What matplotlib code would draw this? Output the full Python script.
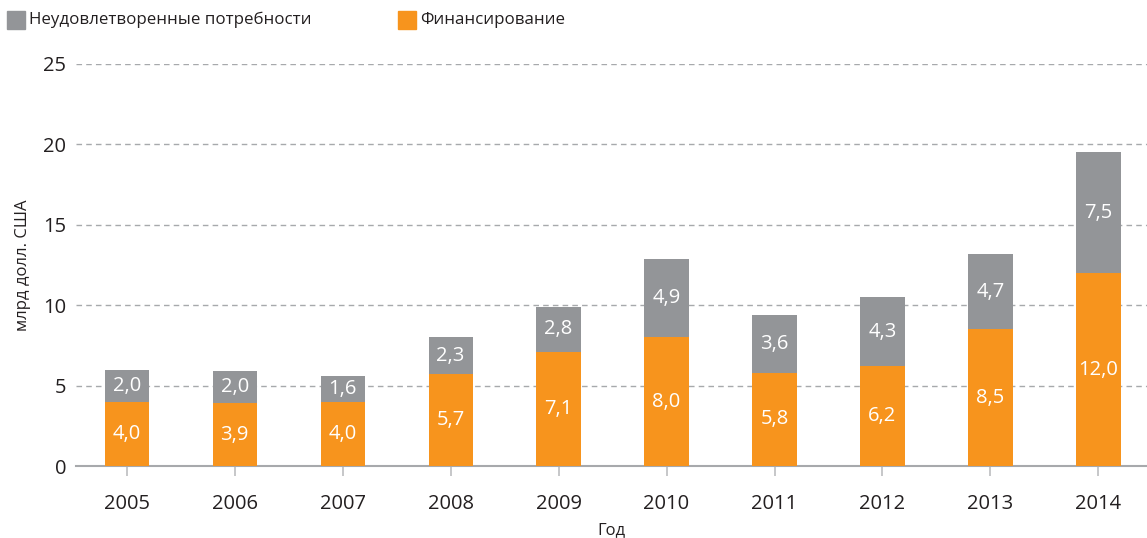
"""Stacked bar chart: funding vs unmet needs, 2005-2014."""

import matplotlib
matplotlib.use("Agg")
import matplotlib.pyplot as plt
import numpy as np
from matplotlib.patches import Rectangle

years = ["2005", "2006", "2007", "2008", "2009", "2010", "2011", "2012", "2013", "2014"]
funding = [4.0, 3.9, 4.0, 5.7, 7.1, 8.0, 5.8, 6.2, 8.5, 12.0]
unmet = [2.0, 2.0, 1.6, 2.3, 2.8, 4.9, 3.6, 4.3, 4.7, 7.5]
legend_labels = ["Неудовлетворенные потребности", "Финансирование"]
y_ticks = [0, 5, 10, 15, 20, 25]

ORANGE = "#f7941d"
GRAY = "#939598"
TEXT = "#231f20"
GRID = "#a7a9ac"

plt.rcParams["font.family"] = ["Open Sans", "DejaVu Sans"]


def fmt(v: float) -> str:
    return f"{v:.1f}".replace(".", ",")


fig = plt.figure(figsize=(11.47, 5.38), dpi=100)
ax = fig.add_axes([76 / 1147, 72 / 538, 1 - 76 / 1147, 402 / 538])

x = np.arange(len(years))
width = 0.41
ax.bar(x, funding, width, color=ORANGE, zorder=3)
ax.bar(x, unmet, width, bottom=funding, color=GRAY, zorder=3)

for xi, f, u in zip(x, funding, unmet):
    ax.text(xi, f / 2, fmt(f), ha="center", va="center", color="white", fontsize=14.5, zorder=4)
    ax.text(xi, f + u / 2, fmt(u), ha="center", va="center", color="white", fontsize=14.5, zorder=4)

ax.set_xlim(-0.47, len(years) - 0.55)
ax.set_ylim(0, 25)
ax.set_yticks(y_ticks)
ax.set_yticklabels([str(t) for t in y_ticks], fontsize=14.5, color=TEXT)
ax.set_xticks(x)
ax.set_xticklabels(years, fontsize=14.5, color=TEXT)
ax.tick_params(axis="y", length=0, pad=7)
ax.tick_params(axis="x", length=7, width=1.2, color="#bcbec0", pad=13)

for t in y_ticks[1:]:
    ax.axhline(t, color=GRID, linestyle=(0, (4, 3)), linewidth=1, zorder=1)

for side in ["top", "right", "left"]:
    ax.spines[side].set_visible(False)
ax.spines["bottom"].set_color("#a7a9ac")
ax.spines["bottom"].set_linewidth(1.5)

ax.set_ylabel("млрд долл. США", fontsize=12, color=TEXT, labelpad=9)
ax.set_xlabel("Год", fontsize=12, color=TEXT, labelpad=6)

# legend drawn by hand at the top
for px, color, label in [(7, GRAY, legend_labels[0]), (398, ORANGE, legend_labels[1])]:
    fig.patches.append(Rectangle((px / 1147, 1 - 29 / 538), 18 / 1147, 18 / 538,
                                 transform=fig.transFigure, color=color))
    fig.text((px + 22) / 1147, 1 - 20 / 538, label, fontsize=12.2, color=TEXT, va="center")

fig.savefig("out.png", dpi=100)
